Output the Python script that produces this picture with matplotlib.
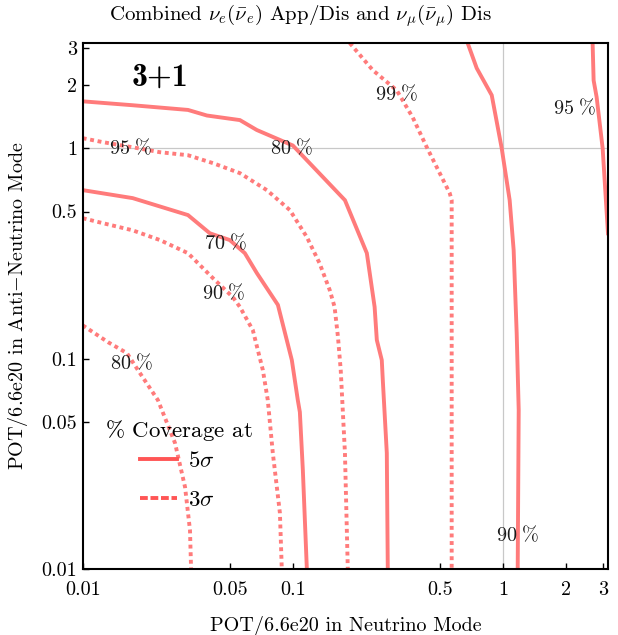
import matplotlib
matplotlib.use("Agg")
import matplotlib.pyplot as plt
from matplotlib.lines import Line2D

plt.rcParams['font.family'] = 'cmr10'
plt.rcParams['mathtext.fontset'] = 'cm'
plt.rcParams['axes.unicode_minus'] = False
plt.rcParams['axes.formatter.use_mathtext'] = True

# ---------------- data (POT/6.6e20) ----------------
# 5 sigma coverage contours (solid)
s5_70_x = [0.01, 0.0173, 0.0317, 0.0403, 0.0501, 0.0591, 0.0674, 0.0849, 0.0989, 0.1056, 0.108, 0.1116, 0.1166]
s5_70_y = [0.632, 0.579, 0.481, 0.394, 0.366, 0.317, 0.255, 0.180, 0.0984, 0.0635, 0.0557, 0.0295, 0.01]

s5_80_x = [0.01, 0.0173, 0.0317, 0.039, 0.056, 0.0674, 0.1, 0.177, 0.225, 0.245, 0.251, 0.265, 0.268, 0.280, 0.283]
s5_80_y = [1.67, 1.60, 1.52, 1.43, 1.36, 1.22, 1.03, 0.566, 0.317, 0.176, 0.1225, 0.0984, 0.079, 0.0356, 0.01]

s5_90_x = [0.679, 0.750, 0.884, 0.986, 1.076, 1.124, 1.162, 1.188, 1.175]
s5_90_y = [3.16, 2.40, 1.786, 1.0, 0.566, 0.328, 0.132, 0.0569, 0.01]

s5_95_x = [2.67, 2.70, 2.79, 2.98, 3.16]
s5_95_y = [3.16, 2.10, 1.75, 1.0, 0.394]

# 3 sigma coverage contours (dotted)
s3_80_x = [0.01, 0.0132, 0.01624, 0.01832, 0.0228, 0.0275, 0.0307, 0.0324, 0.0328]
s3_80_y = [0.144, 0.1197, 0.1062, 0.0882, 0.0635, 0.0397, 0.0245, 0.0153, 0.01]

s3_90_x = [0.01, 0.0125, 0.0173, 0.0233, 0.0317, 0.0417, 0.0518, 0.056, 0.0645, 0.072, 0.076, 0.0803, 0.0868, 0.0886]
s3_90_y = [0.465, 0.440, 0.407, 0.366, 0.317, 0.241, 0.196, 0.176, 0.1366, 0.0882, 0.0635, 0.0356, 0.01845, 0.01]

s3_95_x = [0.01, 0.0125, 0.0173, 0.0233, 0.0317, 0.0417, 0.056, 0.0752, 0.0968, 0.1166, 0.134, 0.150, 0.158, 0.164, 0.169, 0.177, 0.1826]
s3_95_y = [1.116, 1.068, 1.01, 0.957, 0.926, 0.849, 0.761, 0.632, 0.508, 0.378, 0.284, 0.211, 0.176, 0.1265, 0.0882, 0.0356, 0.01]

s3_99_x = [0.1866, 0.240, 0.312, 0.372, 0.434, 0.500, 0.558, 0.570, 0.570, 0.570]
s3_99_y = [3.16, 2.35, 1.886, 1.40, 1.01, 0.761, 0.611, 0.566, 0.079, 0.01]

# contour labels
label_text = ["95", "80", "99", "95", "70", "90", "80", "90"]
label_x = [0.0168, 0.0989, 0.312, 2.19, 0.0475, 0.0465, 0.017, 1.175]
label_y = [1.0, 1.0, 1.805, 1.55, 0.354, 0.205, 0.0952, 0.0145]

tick_vals = [0.01, 0.05, 0.1, 0.5, 1, 2, 3]
tick_labels = ["0.01", "0.05", "0.1", "0.5", "1", "2", "3"]

# ---------------- figure ----------------
col = '#ff7b7b'
fig = plt.figure(figsize=(6.18, 6.35), dpi=100)
ax = fig.add_axes([0.1338, 0.1039, 0.850, 0.8283])
ax.set_xscale('log')
ax.set_yscale('log')
ax.set_xlim(0.01, 3.16)
ax.set_ylim(0.01, 3.16)

ax.axvline(1, color='#c8c8c8', lw=0.9, zorder=0)
ax.axhline(1, color='#c8c8c8', lw=0.9, zorder=0)

solid = [(s5_70_x, s5_70_y), (s5_80_x, s5_80_y), (s5_90_x, s5_90_y), (s5_95_x, s5_95_y)]
dotted = [(s3_80_x, s3_80_y), (s3_90_x, s3_90_y), (s3_95_x, s3_95_y), (s3_99_x, s3_99_y)]
for xs, ys in solid:
    ax.plot(xs, ys, color=col, lw=2.8, solid_joinstyle='miter', clip_on=True)
for xs, ys in dotted:
    ax.plot(xs, ys, color=col, lw=2.8, linestyle=(0, (1, 0.95)), dash_capstyle='butt')

for t, x, y in zip(label_text, label_x, label_y):
    ax.text(x, y, r"$%s\;\%%$" % t, ha='center', va='center', fontsize=14.5, color='#1a1a1a')

ax.text(0.147, 0.935, "3+1", transform=ax.transAxes, fontfamily='cmb10',
        fontsize=23, ha='center', va='center')

ax.minorticks_off()
ax.set_xticks(tick_vals)
ax.set_xticklabels(tick_labels)
ax.set_yticks(tick_vals)
ax.set_yticklabels(tick_labels)
ax.minorticks_off()
ax.tick_params(direction='in', length=4, width=1.0, labelsize=14.5)
ax.tick_params(axis='x', pad=9)
ax.tick_params(axis='y', pad=4)
for s in ax.spines.values():
    s.set_linewidth(1.5)

ax.set_xlabel("POT/6.6e20 in Neutrino Mode", fontsize=14.5, labelpad=12)
ax.set_ylabel(r"POT/6.6e20 in Anti$-$Neutrino Mode", fontsize=14.5, labelpad=8)

fig.text(0.487, 0.976, r"Combined $\nu_e(\bar{\nu}_e)$ App/Dis and $\nu_\mu(\bar{\nu}_\mu)$ Dis",
         ha='center', va='center', fontsize=15)

# legend
ax.text(0.0425, 0.264, r"$\%$ Coverage at", transform=ax.transAxes, fontsize=16.5,
        ha='left', va='center')
handles = [Line2D([], [], color='#ff5555', lw=2.8),
           Line2D([], [], color='#ff5555', lw=2.8, linestyle=(0, (2, 0.7)))]
ax.legend(handles, [r"$5\sigma$", r"$3\sigma$"], loc='upper left', bbox_to_anchor=(0.109, 0.225),
          frameon=False, borderpad=0, borderaxespad=0, handlelength=1.6, handletextpad=0.5,
          labelspacing=0.85, fontsize=16.5)

fig.savefig("out.png", dpi=100)
